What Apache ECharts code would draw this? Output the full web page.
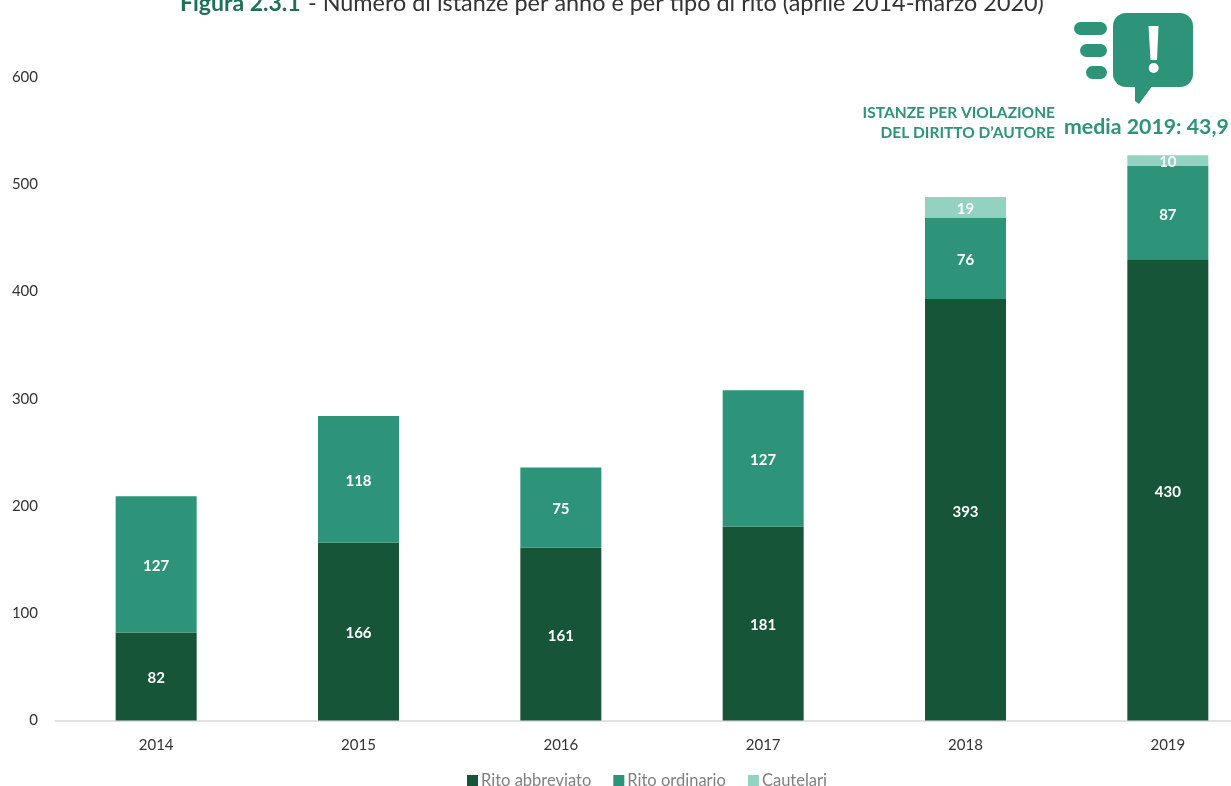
<!DOCTYPE html>
<html>
<head>
<meta charset="utf-8">
<style>html,body{margin:0;padding:0;background:#fff}#c{width:1231px;height:786px}</style>
<script src="https://cdn.jsdelivr.net/npm/echarts@6/dist/echarts.min.js"></script>
</head>
<body>
<div id="c"></div>
<script>
const years = ['2014', '2015', '2016', '2017', '2018', '2019'];
const ritoAbbreviato = [82, 166, 161, 181, 393, 430];
const ritoOrdinario = [127, 118, 75, 127, 76, 87];
const cautelari = [null, null, null, null, 19, 10];
const yTicks = [0, 100, 200, 300, 400, 500, 600];

const FONT = 'Lato, Carlito, "Open Sans", sans-serif';
const DARK = '#165538', MID = '#2d947a', LIGHT = '#93d2c1';

const chart = echarts.init(document.getElementById('c'), null, {renderer: 'canvas'});

function barSeries(name, data, color) {
  return {
    name, data, type: 'bar', stack: 'rito', barWidth: 81,
    itemStyle: {color},
    label: {
      show: true, position: 'inside', color: '#fff', offset: [0, 2],
      fontFamily: FONT, fontSize: 15, fontWeight: 'bold'
    }
  };
}

chart.setOption({
  animation: false,
  backgroundColor: '#fff',
  textStyle: {fontFamily: FONT},
  // The last category band runs past the right edge of the page
  grid: {left: 55, top: 77, width: 1214, height: 643.5, outerBoundsMode: 'none', containLabel: false},
  legend: {
    left: 462, top: 767, itemWidth: 11, itemHeight: 11, itemGap: 22,
    icon: 'rect',
    textStyle: {color: '#7f7f7f', fontFamily: FONT, fontSize: 16.5, padding: [0, 0, 0, -2]},
    data: ['Rito abbreviato', 'Rito ordinario', 'Cautelari']
  },
  xAxis: {
    type: 'category', data: years,
    axisLine: {show: true, lineStyle: {color: '#d9d9d9', width: 1.5}},
    axisTick: {show: false},
    axisLabel: {color: '#333', fontFamily: FONT, fontSize: 15, margin: 17}
  },
  yAxis: {
    type: 'value', min: 0, max: 600, interval: 100,
    axisLine: {show: false}, axisTick: {show: false}, splitLine: {show: false},
    axisLabel: {
      color: '#333', fontFamily: FONT, fontSize: 15, margin: 17,
      formatter: v => yTicks.includes(v) ? String(v) : ''
    }
  },
  series: [
    barSeries('Rito abbreviato', ritoAbbreviato, DARK),
    barSeries('Rito ordinario', ritoOrdinario, MID),
    barSeries('Cautelari', cautelari, LIGHT)
  ],
  graphic: [
    // Title, partly above the top edge of the page
    {type: 'text', left: 180, top: -8, style: {
      text: 'Figura 2.3.1', fill: '#1e7058', font: 'bold 23px ' + FONT
    }},
    {type: 'text', left: 308, top: -8, style: {
      text: '- Numero di istanze per anno e per tipo di rito (aprile 2014-marzo 2020)',
      fill: '#333', font: '23.4px ' + FONT
    }},
    // Side note beside the last bar
    {type: 'text', right: 176, top: 105, style: {
      text: 'ISTANZE PER VIOLAZIONE', fill: MID, font: 'bold 15.5px ' + FONT
    }},
    {type: 'text', right: 176, top: 125, style: {
      text: 'DEL DIRITTO D\u2019AUTORE', fill: MID, font: 'bold 15.5px ' + FONT
    }},
    {type: 'text', left: 1064, top: 117, style: {
      text: 'media 2019: 43,9', fill: MID, font: 'bold 21.3px ' + FONT
    }},
    // Speech-bubble icon with exclamation mark
    {type: 'group', silent: true, children: [
      {type: 'rect', shape: {x: 1113, y: 13, width: 80, height: 74, r: 13}, style: {fill: MID}},
      {type: 'polygon', shape: {points: [[1135, 84], [1135, 101], [1139, 104], [1153, 85]]}, style: {fill: MID}},
      {type: 'rect', shape: {x: 1074, y: 22, width: 33, height: 13, r: 6.5}, style: {fill: MID}},
      {type: 'rect', shape: {x: 1080, y: 44, width: 27, height: 13, r: 6.5}, style: {fill: MID}},
      {type: 'rect', shape: {x: 1086, y: 66, width: 21, height: 13, r: 6.5}, style: {fill: MID}},
      {type: 'polygon', shape: {points: [[1148.5, 26], [1158.5, 26], [1157, 60], [1150.5, 60]]}, style: {fill: '#fff'}},
      {type: 'circle', shape: {cx: 1153.7, cy: 68, r: 5}, style: {fill: '#fff'}}
    ]}
  ]
});
</script>
</body>
</html>
